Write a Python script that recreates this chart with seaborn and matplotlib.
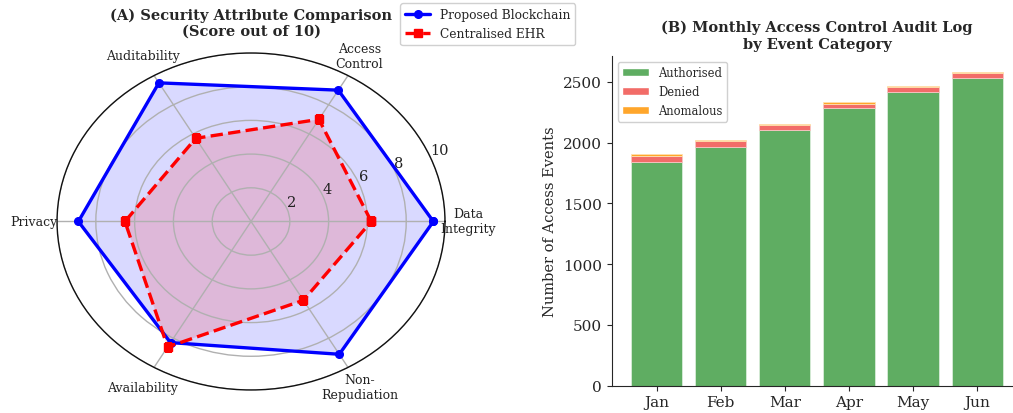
import numpy as np
import matplotlib
matplotlib.use("Agg")
import matplotlib.pyplot as plt
from matplotlib.patches import Patch
import seaborn as sns

# ---- Panel A: security attribute scores (0-10) ----
attributes = ["Data\nIntegrity", "Access\nControl", "Auditability",
              "Privacy", "Availability", "Non-\nRepudiation"]
blockchain_scores = [9.4, 9.0, 9.5, 8.9, 8.3, 9.1]
centralised_scores = [6.2, 7.0, 5.7, 6.5, 8.6, 5.4]
radial_ticks = [2, 4, 6, 8, 10]

# ---- Panel B: monthly audit log ----
months = ["Jan", "Feb", "Mar", "Apr", "May", "Jun"]
authorised = [1838, 1962, 2102, 2284, 2413, 2536]
denied = [56, 52, 44, 38, 46, 40]
anomalous = [9, 9, 10, 9, 8, 8]

sns.set_style("ticks")
plt.rcParams["font.family"] = ["DejaVu Serif"]

fig = plt.figure(figsize=(10.13, 4.14), dpi=100)

# Radar chart
ax1 = fig.add_axes([0.0563, 0.0556, 0.383, 0.814], projection="polar")
ax1.set_aspect("auto")
ax1.set_axisbelow("line")
n = len(attributes)
angles = np.linspace(0, 2 * np.pi, n, endpoint=False).tolist()
angles_closed = angles + angles[:1]
bc = blockchain_scores + blockchain_scores[:1]
ce = centralised_scores + centralised_scores[:1]

ax1.plot(angles_closed, bc, color="#0000ff", lw=2.4, marker="o", ms=5.5,
         label="Proposed Blockchain", zorder=3)
ax1.fill(angles_closed, bc, color="#0000ff", alpha=0.15, lw=0)
ax1.plot(angles_closed, ce, color="#ff0000", lw=2.4, ls="--", marker="s", ms=6,
         label="Centralised EHR", zorder=4)
ax1.fill(angles_closed, ce, color="#ff0000", alpha=0.15, lw=0)

ax1.set_ylim(0, 10)
ax1.set_yticks(radial_ticks)
ax1.set_yticklabels([str(t) for t in radial_ticks], fontsize=10.5, color="#222222")
ax1.set_rlabel_position(22.5)
ax1.set_xticks(angles)
ax1.set_xticklabels(attributes, fontsize=9, color="#222222")
ax1.tick_params(axis="x", pad=6)
ax1.grid(True, color="#b0b0b0", lw=1.0)
ax1.spines["polar"].set_color("#111111")
ax1.spines["polar"].set_linewidth(1.0)
ax1.set_title("(A) Security Attribute Comparison\n(Score out of 10)",
              fontsize=10.5, fontweight="bold", pad=13)
ax1.legend(loc="upper right", bbox_to_anchor=(1.335, 1.148), fontsize=8.8,
           borderaxespad=0, framealpha=1, edgecolor="#d0d0d0")

# Stacked bar chart
green, red, orange = "#5fad62", "#f26c68", "#ffa62b"
ax2 = fig.add_axes([0.6039, 0.0659, 0.405, 0.7964])
sns.barplot(x=months, y=authorised, color=green, edgecolor="#d9ecd9",
            lw=0.6, ax=ax2, saturation=1)
sns.barplot(x=months, y=denied, bottom=authorised, color=red,
            edgecolor="#f7c4c2", lw=0.6, ax=ax2, saturation=1)
stack2 = [a + d for a, d in zip(authorised, denied)]
sns.barplot(x=months, y=anomalous, bottom=stack2, color=orange,
            edgecolor="#ffe0b0", lw=0.6, ax=ax2, saturation=1)
ax2.set_xlim(-0.7, 5.7)
ax2.set_ylabel("Number of Access Events", fontsize=10.5)
ax2.set_xlabel("")
ax2.tick_params(axis="both", labelsize=11)
ax2.set_title("(B) Monthly Access Control Audit Log\nby Event Category",
              fontsize=10.5, fontweight="bold")
handles = [Patch(facecolor=green, label="Authorised"),
           Patch(facecolor=red, label="Denied"),
           Patch(facecolor=orange, label="Anomalous")]
ax2.legend(handles=handles, loc="upper left", fontsize=8.3, framealpha=1,
           edgecolor="#d0d0d0", handlelength=2.3, labelspacing=0.5)
sns.despine(ax=ax2)

fig.savefig("out.png", dpi=100)
